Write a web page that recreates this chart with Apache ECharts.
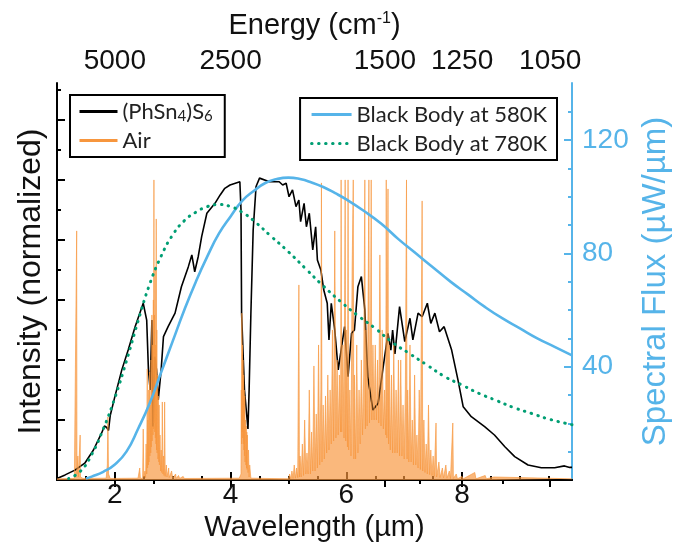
<!DOCTYPE html>
<html>
<head>
<meta charset="utf-8">
<script src="https://cdn.jsdelivr.net/npm/echarts@6/dist/echarts.min.js"></script>
<style>
  html, body { margin: 0; padding: 0; background: #fff; }
  #main { width: 675px; height: 550px; }
</style>
</head>
<body>
<div id="main"></div>
<script>
// axis ticks
const wavelengthTicks = [2, 4, 6, 8];
const wavelengthMinor = [1.5, 2.5, 3, 3.5, 4.5, 5, 5.5, 6.5, 7, 7.5, 8.5, 9, 9.5];
const energyTicks = [5000, 2500, 1500, 1250, 1050];
const energyMinor = [3750, 2000, 1375, 1150];
const intensityTicks = [0.2, 0.4, 0.6, 0.8, 1.0, 1.2];
const intensityMinor = [0.1, 0.3, 0.5, 0.7, 0.9, 1.1, 1.3];
const fluxTicks = [40, 80, 120];
const fluxMinor = [10, 20, 30, 50, 60, 70, 90, 100, 110, 130];

// (PhSn4)S6 emission, normalized  [wavelength um, intensity]
const sample = [
  [1.00, 0.005], [1.14, 0.017], [1.31, 0.033], [1.48, 0.056], [1.63, 0.10], [1.77, 0.156],
  [1.82, 0.18], [1.86, 0.175], [1.89, 0.165], [1.92, 0.215], [2.00, 0.278], [2.12, 0.367],
  [2.23, 0.433], [2.35, 0.511], [2.49, 0.589], [2.55, 0.533], [2.58, 0.367], [2.61, 0.30],
  [2.64, 0.533], [2.66, 0.178], [2.69, 0.411], [2.72, 0.367], [2.75, 0.267], [2.80, 0.367],
  [2.84, 0.478], [2.92, 0.511], [3.04, 0.556], [3.15, 0.644], [3.27, 0.711], [3.33, 0.75],
  [3.38, 0.694], [3.44, 0.744], [3.50, 0.811], [3.59, 0.889], [3.73, 0.922], [3.82, 0.95],
  [3.90, 0.972], [3.99, 0.983], [4.16, 0.994], [4.18, 0.90], [4.19, 0.556], [4.24, 0.30],
  [4.30, 0.17], [4.32, 0.30], [4.35, 0.55], [4.39, 0.833], [4.44, 0.978], [4.50, 1.006],
  [4.67, 0.994], [4.84, 0.994], [4.90, 0.983], [4.96, 0.989], [5.01, 0.944], [5.07, 0.967],
  [5.13, 0.911], [5.18, 0.933], [5.21, 0.861], [5.27, 0.922], [5.31, 0.844], [5.36, 0.889],
  [5.42, 0.767], [5.47, 0.844], [5.50, 0.733], [5.56, 0.70], [5.61, 0.633], [5.67, 0.589],
  [5.70, 0.467], [5.74, 0.589], [5.80, 0.50], [5.86, 0.367], [5.91, 0.433], [5.97, 0.511],
  [6.03, 0.344], [6.09, 0.489], [6.14, 0.50], [6.20, 0.644], [6.26, 0.678], [6.32, 0.567],
  [6.37, 0.344], [6.46, 0.233], [6.55, 0.256], [6.63, 0.367], [6.72, 0.489], [6.77, 0.433],
  [6.80, 0.50], [6.84, 0.42], [6.92, 0.578], [7.01, 0.461], [7.10, 0.539], [7.15, 0.467],
  [7.24, 0.556], [7.31, 0.544], [7.40, 0.589], [7.46, 0.522], [7.53, 0.556], [7.61, 0.494],
  [7.69, 0.511], [7.82, 0.433], [7.93, 0.333], [8.02, 0.244], [8.16, 0.211], [8.39, 0.178],
  [8.56, 0.15], [8.74, 0.111], [8.91, 0.078], [9.14, 0.05], [9.37, 0.041], [9.60, 0.041],
  [9.77, 0.047], [9.86, 0.042], [9.90, 0.042]
];

// air absorption lines, normalized
const air = [
  [1.00, 0.004], [1.30, 0.005], [1.33, 0.01], [1.34, 0.83], [1.345, 0.02], [1.36, 0.08],
  [1.37, 0.01], [1.40, 0.15], [1.405, 0.01], [1.45, 0.005], [1.85, 0.006], [1.87, 0.05],
  [1.88, 0.21], [1.89, 0.02], [1.92, 0.005], [2.40, 0.006], [2.43, 0.04], [2.44, 0.006],
  [2.48, 0.005], [2.49, 0.17], [2.50, 0.01], [2.52, 0.03], [2.53, 0.008], [2.54, 0.12],
  [2.55, 0.02], [2.56, 0.37], [2.565, 0.04], [2.57, 0.2], [2.58, 0.05], [2.585, 0.3],
  [2.59, 0.06], [2.60, 0.36], [2.605, 0.08], [2.61, 0.25], [2.62, 0.09], [2.625, 0.4],
  [2.63, 0.11], [2.64, 0.55], [2.645, 0.13], [2.65, 0.45], [2.66, 0.15], [2.665, 0.6],
  [2.67, 0.17], [2.675, 1.0], [2.68, 0.19], [2.685, 0.55], [2.69, 0.16], [2.695, 0.7],
  [2.70, 0.14], [2.705, 0.45], [2.71, 0.12], [2.715, 0.87], [2.72, 0.1], [2.725, 0.5],
  [2.73, 0.09], [2.74, 0.35], [2.745, 0.07], [2.75, 0.28], [2.76, 0.06], [2.765, 0.25],
  [2.77, 0.05], [2.78, 0.15], [2.79, 0.03], [2.80, 0.1], [2.81, 0.025], [2.82, 0.26],
  [2.83, 0.02], [2.84, 0.08], [2.85, 0.015], [2.86, 0.26], [2.87, 0.012], [2.89, 0.05],
  [2.90, 0.01], [2.93, 0.04], [2.94, 0.008], [2.98, 0.03], [3.00, 0.006], [3.05, 0.02],
  [3.06, 0.005], [3.10, 0.015], [3.12, 0.005], [3.18, 0.012], [3.20, 0.005], [4.15, 0.006],
  [4.18, 0.02], [4.185, 0.3], [4.19, 0.12], [4.195, 0.556], [4.20, 0.16], [4.205, 0.45],
  [4.21, 0.14], [4.215, 0.4], [4.22, 0.12], [4.225, 0.35], [4.23, 0.1], [4.235, 0.3],
  [4.24, 0.08], [4.245, 0.28], [4.25, 0.06], [4.26, 0.2], [4.265, 0.05], [4.27, 0.18],
  [4.275, 0.04], [4.28, 0.16], [4.285, 0.035], [4.29, 0.15], [4.30, 0.025], [4.31, 0.1],
  [4.32, 0.01], [4.33, 0.05], [4.35, 0.006], [5.00, 0.004], [5.02, 0.02], [5.04, 0.004],
  [5.06, 0.03], [5.08, 0.005], [5.10, 0.05], [5.12, 0.006], [5.14, 0.04], [5.16, 0.008],
  [5.18, 0.65], [5.19, 0.01], [5.20, 0.08], [5.22, 0.01], [5.24, 0.12], [5.26, 0.015],
  [5.28, 0.2], [5.30, 0.02], [5.32, 0.09], [5.34, 0.02], [5.36, 0.3], [5.38, 0.02],
  [5.40, 0.16], [5.42, 0.03], [5.44, 0.38], [5.46, 0.03], [5.48, 0.22], [5.50, 0.04],
  [5.52, 0.45], [5.54, 0.05], [5.56, 0.3], [5.57, 0.99], [5.58, 0.06], [5.60, 0.25],
  [5.62, 0.07], [5.64, 0.28], [5.66, 0.09], [5.68, 0.35], [5.70, 0.1], [5.72, 0.3],
  [5.74, 0.12], [5.76, 0.5], [5.78, 0.13], [5.80, 0.83], [5.82, 0.14], [5.84, 0.4],
  [5.86, 0.15], [5.88, 0.35], [5.90, 0.16], [5.91, 1.0], [5.92, 0.16], [5.94, 0.45],
  [5.96, 0.14], [5.98, 1.0], [5.99, 0.13], [6.00, 0.5], [6.02, 0.11], [6.03, 1.0],
  [6.04, 0.1], [6.06, 0.3], [6.08, 0.08], [6.10, 0.7], [6.12, 1.0], [6.13, 0.07],
  [6.14, 0.35], [6.16, 0.07], [6.18, 0.45], [6.20, 0.09], [6.22, 0.3], [6.24, 0.12],
  [6.26, 0.4], [6.28, 0.15], [6.30, 0.35], [6.32, 1.0], [6.33, 0.17], [6.34, 0.5],
  [6.36, 0.18], [6.38, 0.7], [6.39, 1.0], [6.40, 0.19], [6.42, 0.55], [6.43, 1.0],
  [6.44, 0.2], [6.46, 0.45], [6.48, 0.2], [6.50, 0.45], [6.52, 0.2], [6.54, 0.4],
  [6.56, 0.19], [6.58, 0.75], [6.60, 0.18], [6.62, 0.5], [6.64, 0.17], [6.66, 0.3],
  [6.68, 0.15], [6.69, 1.0], [6.70, 0.14], [6.72, 0.97], [6.73, 0.12], [6.74, 0.45],
  [6.76, 0.1], [6.78, 0.35], [6.80, 0.09], [6.82, 0.45], [6.84, 0.09], [6.86, 0.3],
  [6.88, 0.09], [6.90, 0.4], [6.92, 0.08], [6.94, 0.4], [6.96, 0.08], [6.98, 0.25],
  [7.00, 0.07], [7.02, 0.3], [7.04, 1.0], [7.05, 0.07], [7.06, 0.3], [7.08, 0.06],
  [7.10, 0.45], [7.12, 0.06], [7.14, 0.2], [7.16, 0.05], [7.18, 0.35], [7.20, 0.05],
  [7.22, 0.15], [7.24, 0.04], [7.26, 0.3], [7.28, 0.035], [7.31, 0.93], [7.32, 0.03],
  [7.34, 0.2], [7.36, 0.025], [7.38, 0.12], [7.40, 0.02], [7.42, 0.25], [7.44, 0.018],
  [7.46, 0.1], [7.48, 0.015], [7.50, 0.08], [7.52, 0.012], [7.55, 0.19], [7.56, 0.01],
  [7.60, 0.06], [7.62, 0.008], [7.66, 0.04], [7.68, 0.007], [7.72, 0.05], [7.74, 0.006],
  [7.78, 0.03], [7.80, 0.005], [7.84, 0.19], [7.85, 0.005], [7.90, 0.02], [7.92, 0.004],
  [8.00, 0.012], [8.02, 0.004], [8.22, 0.025], [8.24, 0.004], [8.40, 0.015], [8.42, 0.004],
  [8.55, 0.01], [8.57, 0.004], [9.90, 0.004]
];

// black body spectral flux, uW/um
const bb580 = [
  [1.5, 0.5], [1.6, 1.2], [1.8, 2.9], [2.0, 5.5], [2.2, 10], [2.4, 18], [2.6, 27], [2.8, 38],
  [3.0, 49], [3.2, 60], [3.4, 70], [3.6, 79], [3.8, 87], [4.0, 93], [4.2, 98.5], [4.4, 102],
  [4.6, 104.8], [4.8, 106.2], [5.0, 106.7], [5.2, 106.2], [5.4, 105], [5.6, 103.4],
  [5.8, 101.3], [6.0, 99], [6.3, 95], [6.6, 90.5], [6.9, 85], [7.2, 80], [7.5, 75], [7.8, 70],
  [8.1, 65.5], [8.4, 61], [8.7, 57], [9.0, 53.5], [9.3, 50], [9.6, 47], [9.9, 44]
];
const bb780 = [
  [1.2, 0.5], [1.4, 3], [1.6, 9], [1.8, 18], [2.0, 29], [2.2, 42], [2.4, 56], [2.6, 69],
  [2.8, 79], [3.0, 86.5], [3.2, 91.5], [3.4, 94.5], [3.6, 96.5], [3.8, 97.2], [4.0, 96.5],
  [4.2, 94.5], [4.4, 91.5], [4.7, 86], [5.0, 80.5], [5.3, 74.5], [5.6, 68.5], [5.9, 63],
  [6.2, 58], [6.5, 53.5], [6.8, 48.5], [7.1, 44.5], [7.4, 40.5], [7.7, 36.5], [8.0, 33.5],
  [8.3, 30.5], [8.6, 28], [8.9, 25.5], [9.2, 23.5], [9.5, 21.5], [9.9, 19.5]
];

const BLUE = '#56B4E9';
const ORANGE = '#F7963E';
const axisFont = 'Liberation Sans';
const legendFont = 'Lato';

let myEcharts = echarts.init(document.getElementById('main'));

let hiddenAxis = {
  axisLine: { show: false },
  axisLabel: { show: false },
  splitLine: { show: false }
};

let option = {
  animation: false,
  backgroundColor: '#fff',
  grid: { left: 57, right: 103, top: 83, bottom: 70, outerBoundsMode: 'none' },
  legend: [
    {
      orient: 'vertical',
      left: 70,
      top: 95,
      data: ['(PhSn4)S6', 'Air'],
      padding: [4, 12, 4, 8],
      itemGap: 4,
      itemWidth: 38,
      itemHeight: 14,
      borderColor: '#000',
      borderWidth: 2,
      lineStyle: { width: 3, opacity: 1 },
      itemStyle: { opacity: 0 },
      formatter: function(name) {
        return name === '(PhSn4)S6' ? '(PhSn{sub|4})S{sub|6}' : name;
      },
      textStyle: {
        fontFamily: legendFont,
        fontSize: 22,
        color: '#222',
        lineHeight: 25,
        rich: {
          sub: { fontFamily: legendFont, fontSize: 15, color: '#222', verticalAlign: 'bottom', lineHeight: 12 }
        }
      }
    },
    {
      orient: 'vertical',
      right: 118,
      top: 98,
      data: ['Black Body at 580K', 'Black Body at 780K'],
      padding: [4, 10, 4, 10],
      itemGap: 4,
      itemWidth: 40,
      itemHeight: 14,
      borderColor: '#000',
      borderWidth: 2,
      lineStyle: { width: 3 },
      itemStyle: { opacity: 0 },
      textStyle: { fontFamily: legendFont, fontSize: 22, color: '#222', lineHeight: 25 }
    }
  ],
  xAxis: [
    {
      type: 'value', min: 1, max: 9.9, position: 'bottom',
      name: 'Wavelength (\u00b5m)', nameLocation: 'middle', nameGap: 33,
      nameTextStyle: { fontFamily: axisFont, fontSize: 29, color: '#111' },
      axisLine: { lineStyle: { color: '#000', width: 2 } },
      axisTick: { inside: true, length: 8, customValues: wavelengthTicks, lineStyle: { width: 2, color: '#000' } },
      axisLabel: { customValues: wavelengthTicks, fontFamily: axisFont, fontSize: 28, color: '#111', margin: 1 },
      splitLine: { show: false }
    },
    {
      type: 'value', min: 1, max: 9.9, position: 'top',
      name: 'Energy (cm{sup|-1})', nameLocation: 'middle', nameGap: 43,
      nameTextStyle: {
        fontFamily: axisFont, fontSize: 29, color: '#111',
        rich: { sup: { fontFamily: axisFont, fontSize: 16, color: '#111', verticalAlign: 'top' } }
      },
      axisLine: { lineStyle: { color: '#000', width: 2 } },
      axisTick: { inside: true, length: 7, customValues: energyTicks.map(e => 10000 / e), lineStyle: { width: 2, color: '#000' } },
      axisLabel: {
        customValues: energyTicks.map(e => 10000 / e),
        formatter: v => String(Math.round(10000 / v)),
        fontFamily: axisFont, fontSize: 28, color: '#111', margin: 8
      },
      splitLine: { show: false }
    },
    Object.assign({
      type: 'value', min: 1, max: 9.9, position: 'bottom',
      axisTick: { inside: true, length: 4, customValues: wavelengthMinor, lineStyle: { width: 2, color: '#000' } }
    }, hiddenAxis),
    Object.assign({
      type: 'value', min: 1, max: 9.9, position: 'top',
      axisTick: { inside: true, length: 4, customValues: energyMinor.map(e => 10000 / e), lineStyle: { width: 2, color: '#000' } }
    }, hiddenAxis)
  ],
  yAxis: [
    {
      type: 'value', min: 0, max: 1.323, position: 'left',
      name: 'Intensity (normalized)', nameLocation: 'middle', nameGap: 10, nameRotate: 90,
      nameTextStyle: { fontFamily: axisFont, fontSize: 32, color: '#111' },
      axisLine: { lineStyle: { color: '#000', width: 2 } },
      axisTick: { inside: true, length: 8, customValues: intensityTicks, lineStyle: { width: 2, color: '#000' } },
      axisLabel: { show: false },
      splitLine: { show: false }
    },
    {
      type: 'value', min: 0, max: 140.1, position: 'right',
      name: 'Spectral Flux (\u00b5W/\u00b5m)', nameLocation: 'middle', nameGap: 59, nameRotate: 90,
      nameTextStyle: { fontFamily: axisFont, fontSize: 33, color: BLUE },
      axisLine: { lineStyle: { color: BLUE, width: 2 } },
      axisTick: { inside: true, length: 8, customValues: fluxTicks, lineStyle: { width: 2, color: BLUE } },
      axisLabel: { customValues: fluxTicks, fontFamily: axisFont, fontSize: 28, color: BLUE, margin: 10 },
      splitLine: { show: false }
    },
    Object.assign({
      type: 'value', min: 0, max: 1.323, position: 'left',
      axisTick: { inside: true, length: 4, customValues: intensityMinor, lineStyle: { width: 2, color: '#000' } }
    }, hiddenAxis),
    Object.assign({
      type: 'value', min: 0, max: 140.1, position: 'right',
      axisTick: { inside: true, length: 4, customValues: fluxMinor, lineStyle: { width: 2, color: BLUE } }
    }, hiddenAxis)
  ],
  series: [
    {
      name: '(PhSn4)S6', type: 'line', xAxisIndex: 0, yAxisIndex: 0,
      data: sample, showSymbol: false, symbol: 'none',
      lineStyle: { color: '#000', width: 1.6 }, itemStyle: { color: '#000' }
    },
    {
      name: 'Air', type: 'line', xAxisIndex: 0, yAxisIndex: 0,
      data: air, showSymbol: false, symbol: 'none',
      lineStyle: { color: ORANGE, width: 1, opacity: 0.65 },
      areaStyle: { color: ORANGE, opacity: 0.68 },
      itemStyle: { color: ORANGE }
    },
    {
      name: 'Black Body at 580K', type: 'line', xAxisIndex: 0, yAxisIndex: 1,
      data: bb580, smooth: true, showSymbol: false, symbol: 'none',
      lineStyle: { color: BLUE, width: 2.6 }, itemStyle: { color: BLUE }
    },
    {
      name: 'Black Body at 780K', type: 'line', xAxisIndex: 0, yAxisIndex: 1,
      data: bb780, smooth: true, showSymbol: false, symbol: 'none',
      lineStyle: { color: '#009E73', width: 3, type: [0.5, 6.5], cap: 'round' }, itemStyle: { color: '#009E73' }
    }
  ]
};
myEcharts.setOption(option);
</script>
</body>
</html>
